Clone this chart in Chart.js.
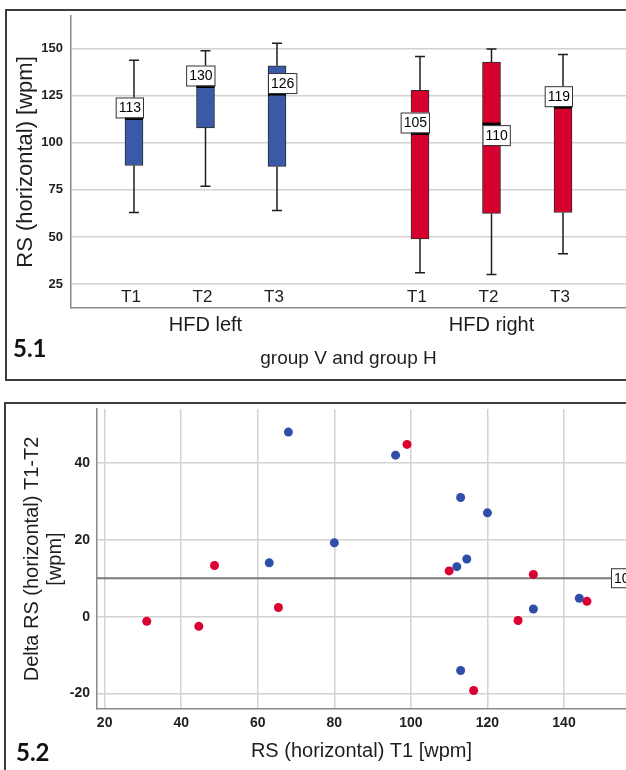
<!DOCTYPE html>
<html>
<head>
<meta charset="utf-8">
<script src="https://cdn.jsdelivr.net/npm/chart.js@4.4.0/dist/chart.umd.min.js"></script>
<style>
html, body { margin: 0; padding: 0; background: #fff; overflow: hidden; width: 626px; height: 770px; }
.frame { position: absolute; border: 2px solid #3c3c3c; box-sizing: border-box; }
#f1 { left: 5px; top: 9px; width: 720px; height: 372px; }
#f2 { left: 4px; top: 402px; width: 720px; height: 420px; }
canvas { position: absolute; display: block; }
#c1 { left: 7px; top: 11px; }
#c2 { left: 6px; top: 404px; }
.tag { position: absolute; font: bold 24px Lato, sans-serif; line-height: 24px; color: #111; }
</style>
</head>
<body>
<div class="frame" id="f1"></div>
<div class="frame" id="f2"></div>
<canvas id="c1" width="693" height="368"></canvas>
<canvas id="c2" width="694" height="376"></canvas>
<div class="tag" style="left:13px;top:336px">5.1</div>
<div class="tag" style="left:16px;top:740px">5.2</div>
<script>
// 5.1 box plots, order: HFD left T1..T3, HFD right T1..T3
const groups = ['HFD left', 'HFD right'];
const times = ['T1', 'T2', 'T3'];
const boxMin = [63, 77, 64, 31, 30, 41];
const boxQ1 = [88, 108, 87.5, 49, 62.5, 63];
const boxMed = [113, 130, 126, 105, 110, 119];
const boxQ3 = [113.5, 130.5, 141, 128, 143, 119.5];
const boxMax = [144, 149, 153, 146, 150, 147];
const yTicksTop = [25, 50, 75, 100, 125, 150];

// 5.2 scatter: RS T1 vs delta T1-T2
const blueX = [68, 63, 96, 113, 120, 80, 114.6, 112, 144, 132, 113];
const blueY = [48, 14, 42, 31, 27, 19.2, 15, 13, 4.8, 2, -14];
const redX = [48.7, 65.4, 31, 44.6, 99, 110, 132, 146, 128, 116.4];
const redY = [13.3, 2.4, -1.2, -2.5, 44.8, 11.9, 11, 4, -1, -19.2];
const refValue = 10;
const xTicksBottom = [20, 40, 60, 80, 100, 120, 140];
const yTicksBottom = [-20, 0, 20, 40];

// styling
const groupColors = ['#3a5aa8', '#d5002e'];
const labelSide = ['right', 'right', 'left', 'right', 'left', 'right'];
const labelBelow = [false, false, false, false, true, false];
const gridColor = '#d2d2d2';
const axisColor = '#8a8a8a';
const textColor = '#1e1e1e';

Chart.defaults.font.family = "'Liberation Sans', Arial, sans-serif";
Chart.defaults.color = textColor;

const slot = i => Math.floor(i / 3) * 4 + (i % 3) + 1;
const noPad = a => { a.paddingTop = 0; a.paddingBottom = 0; a.paddingLeft = 0; a.paddingRight = 0; };

const boxPlugin = {
    id: 'boxes',
    afterDatasetsDraw(chart) {
        const { ctx, chartArea } = chart;
        const x = chart.scales.x, y = chart.scales.y;
        const half = 9;
        ctx.save();
        boxMed.forEach((m, i) => {
            const px = x.getPixelForValue(slot(i));
            ctx.strokeStyle = '#1e1e1e';
            ctx.lineWidth = 1.5;
            ctx.beginPath();
            ctx.moveTo(px, y.getPixelForValue(boxQ3[i]));
            ctx.lineTo(px, y.getPixelForValue(boxMax[i]));
            ctx.moveTo(px, y.getPixelForValue(boxQ1[i]));
            ctx.lineTo(px, y.getPixelForValue(boxMin[i]));
            ctx.moveTo(px - 5, y.getPixelForValue(boxMax[i]));
            ctx.lineTo(px + 5, y.getPixelForValue(boxMax[i]));
            ctx.moveTo(px - 5, y.getPixelForValue(boxMin[i]));
            ctx.lineTo(px + 5, y.getPixelForValue(boxMin[i]));
            ctx.stroke();
            ctx.strokeStyle = '#000';
            ctx.lineWidth = 3;
            ctx.beginPath();
            ctx.moveTo(px - half, y.getPixelForValue(m));
            ctx.lineTo(px + half, y.getPixelForValue(m));
            ctx.stroke();
        });
        // median labels
        ctx.font = "14px 'Liberation Sans', Arial, sans-serif";
        ctx.textAlign = 'center';
        ctx.textBaseline = 'middle';
        boxMed.forEach((m, i) => {
            const px = x.getPixelForValue(slot(i));
            const ym = y.getPixelForValue(m);
            const txt = String(Math.round(m));
            const w = ctx.measureText(txt).width + 5;
            const h = 20;
            const lx = labelSide[i] === 'right' ? px + half - w : px - half;
            const ly = labelBelow[i] ? ym + 1 : ym - h - 1;
            ctx.fillStyle = '#fff';
            ctx.fillRect(lx, ly, w, h);
            ctx.strokeStyle = '#333';
            ctx.lineWidth = 1;
            ctx.strokeRect(lx + 0.5, ly + 0.5, w, h);
            ctx.fillStyle = '#000';
            ctx.fillText(txt, lx + w / 2 + 0.5, ly + h / 2 + 1);
        });
        // time labels inside the plot
        ctx.font = "17px 'Liberation Sans', Arial, sans-serif";
        ctx.fillStyle = textColor;
        boxMed.forEach((m, i) => {
            ctx.fillText(times[i % 3], x.getPixelForValue(slot(i)) - 3, chartArea.bottom - 11);
        });
        ctx.restore();
    }
};

new Chart(document.getElementById('c1'), {
    type: 'bar',
    data: {
        datasets: [{
            data: boxQ1.map((q, i) => ({ x: slot(i), y: [q, boxQ3[i]] })),
            backgroundColor: boxQ1.map((q, i) => groupColors[Math.floor(i / 3)]),
            borderColor: '#2b2b2b',
            borderWidth: 1,
            borderSkipped: false,
            barThickness: 18
        }]
    },
    options: {
        responsive: false,
        animation: false,
        layout: { padding: { top: 5, right: 74, left: 0, bottom: 0 } },
        plugins: { legend: { display: false }, tooltip: { enabled: false } },
        scales: {
            x: {
                type: 'linear', min: 0.119, max: 7.881, offset: false,
                grid: { display: false, drawTicks: false },
                border: { display: true, color: axisColor, width: 1.5 },
                afterBuildTicks: a => { a.ticks = groups.map((g, gi) => ({ value: gi * 4 + 2 })); },
                ticks: { padding: 5, maxRotation: 0, font: { size: 20 }, callback: v => groups[(v - 2) / 4] },
                title: { display: true, text: 'group V and group H', font: { size: 19 }, padding: { top: 0, bottom: 8.6 } },
                afterFit: a => { a.height = 71; noPad(a); }
            },
            y: {
                min: 12.2, max: 167.5,
                afterBuildTicks: a => { a.ticks = yTicksTop.map(v => ({ value: v })); },
                grid: { color: gridColor, lineWidth: 1.5, drawTicks: false },
                border: { display: true, color: axisColor, width: 1.5 },
                ticks: { padding: 8, font: { size: 13, weight: 'bold' } },
                title: { display: true, text: 'RS (horizontal) [wpm]', font: { size: 22 }, padding: { top: 6 } },
                afterFit: a => { a.width = 64; noPad(a); }
            }
        }
    },
    plugins: [boxPlugin]
});

const refPlugin = {
    id: 'ref',
    beforeDatasetsDraw(chart) {
        const { ctx, chartArea } = chart;
        const yr = chart.scales.y.getPixelForValue(refValue);
        ctx.save();
        ctx.strokeStyle = '#7a7a7a';
        ctx.lineWidth = 2;
        ctx.beginPath();
        ctx.moveTo(chartArea.left, yr);
        ctx.lineTo(chartArea.right, yr);
        ctx.stroke();
        ctx.restore();
    },
    afterDraw(chart) {
        const { ctx, chartArea } = chart;
        const yr = chart.scales.y.getPixelForValue(refValue);
        ctx.save();
        ctx.font = "14px 'Liberation Sans', Arial, sans-serif";
        const txt = String(refValue);
        const w = ctx.measureText(txt).width + 6;
        const lx = chartArea.right - 15;
        ctx.fillStyle = '#fff';
        ctx.fillRect(lx, yr - 10, w, 20);
        ctx.strokeStyle = '#333';
        ctx.lineWidth = 1;
        ctx.strokeRect(lx + 0.5, yr - 9.5, w, 19);
        ctx.fillStyle = '#000';
        ctx.textBaseline = 'middle';
        ctx.fillText(txt, lx + 3, yr + 1);
        ctx.restore();
    }
};

new Chart(document.getElementById('c2'), {
    type: 'scatter',
    data: {
        datasets: [
            { label: 'group V', data: blueX.map((v, i) => ({ x: v, y: blueY[i] })), backgroundColor: '#2f4ea8', borderWidth: 0, pointRadius: 4.5 },
            { label: 'group H', data: redX.map((v, i) => ({ x: v, y: redY[i] })), backgroundColor: '#dc0030', borderWidth: 0, pointRadius: 4.5 }
        ]
    },
    options: {
        responsive: false,
        animation: false,
        layout: { padding: { top: 5, right: 74, left: 0, bottom: 0 } },
        plugins: { legend: { display: false }, tooltip: { enabled: false } },
        scales: {
            x: {
                type: 'linear', min: 18, max: 156.2,
                afterBuildTicks: a => { a.ticks = xTicksBottom.map(v => ({ value: v })); },
                grid: { color: gridColor, lineWidth: 1.5, drawTicks: false },
                border: { display: true, color: axisColor, width: 1.5 },
                ticks: { padding: 6, maxRotation: 0, font: { size: 14, weight: 'bold' } },
                title: { display: true, text: 'RS (horizontal) T1 [wpm]', font: { size: 20 }, padding: { top: 0, bottom: 16.3 } },
                afterFit: a => { a.height = 71; noPad(a); }
            },
            y: {
                min: -24, max: 54,
                afterBuildTicks: a => { a.ticks = yTicksBottom.map(v => ({ value: v })); },
                grid: { color: gridColor, lineWidth: 1.5, drawTicks: false },
                border: { display: true, color: axisColor, width: 1.5 },
                ticks: { padding: 7, font: { size: 14, weight: 'bold' } },
                title: { display: true, text: ['Delta RS (horizontal) T1-T2', '[wpm]'], font: { size: 20, lineHeight: 1.15 }, padding: { top: 14.5 } },
                afterFit: a => { a.width = 91; noPad(a); }
            }
        }
    },
    plugins: [refPlugin]
});
</script>
</body>
</html>
